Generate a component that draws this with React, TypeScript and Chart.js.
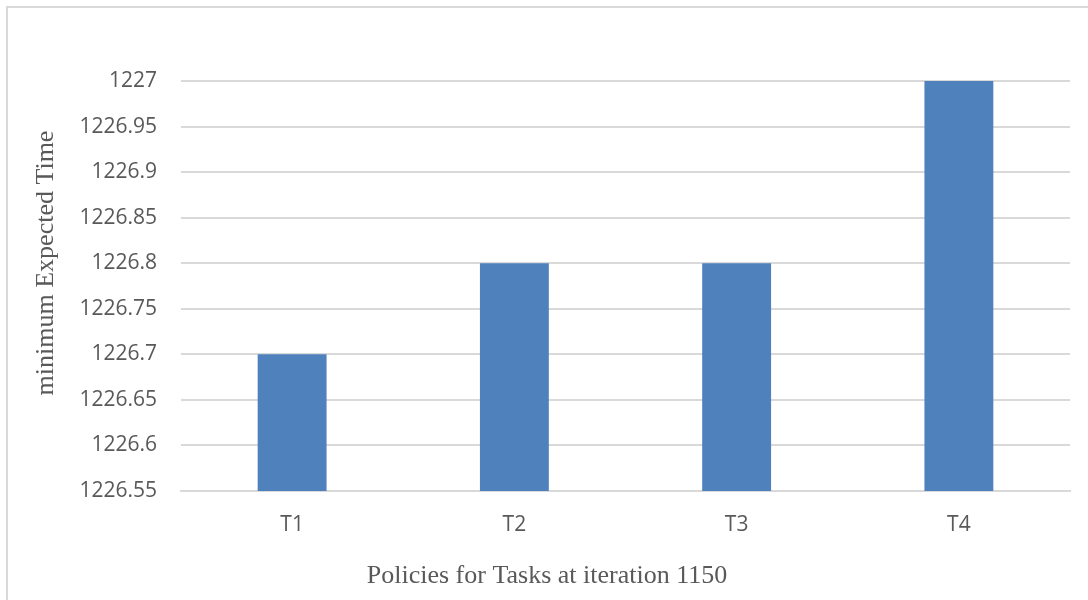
import React, { useEffect, useRef } from "react";
import { Chart, registerables } from "chart.js";

Chart.register(...registerables);

const categories = ["T1", "T2", "T3", "T4"];
const values = [1226.7, 1226.8, 1226.8, 1227.0];
const yMin = 1226.55;
const yMax = 1227.0;
const yStep = 0.05;
const xTitle = "Policies for Tasks at iteration 1150";
const yTitle = "minimum Expected Time";

const titlePlugin = {
  id: "customTitles",
  afterDraw(chart: any) {
    const ctx = chart.ctx;
    ctx.save();
    ctx.fillStyle = "#595959";
    ctx.font = "26px 'Liberation Serif', 'Times New Roman', serif";
    ctx.textAlign = "center";
    ctx.textBaseline = "alphabetic";
    ctx.fillText(xTitle, 547, 583);
    ctx.translate(53, 263);
    ctx.rotate(-Math.PI / 2);
    ctx.fillText(yTitle, 0, 0);
    ctx.restore();
  },
};

export default function App() {
  const ref = useRef<HTMLCanvasElement | null>(null);
  useEffect(() => {
    if (!ref.current) return;
    const chart = new Chart(ref.current, {
      type: "bar",
      data: {
        labels: categories,
        datasets: [
          {
            data: values,
            backgroundColor: "#4F81BD",
            borderWidth: 0,
            categoryPercentage: 1,
            barPercentage: 0.31,
          },
        ],
      },
      options: {
        responsive: false,
        animation: false,
        layout: { padding: { top: 81, right: 18, left: 0, bottom: 0 } },
        plugins: {
          legend: { display: false },
          tooltip: { enabled: false },
          title: { display: false },
        },
        scales: {
          x: {
            grid: { display: false, drawTicks: false },
            border: { display: true, color: "#d9d9d9", width: 2 },
            ticks: {
              color: "#595959",
              font: { family: "'Open Sans'", size: 21 },
              padding: 21,
            },
            afterFit: (s: any) => {
              s.height = 109;
            },
          },
          y: {
            min: yMin,
            max: yMax,
            grid: { color: "#d9d9d9", lineWidth: 2, drawTicks: false },
            border: { display: false },
            ticks: {
              stepSize: yStep,
              color: "#595959",
              font: { family: "'Open Sans'", size: 21 },
              padding: 24,
              callback: (v: any) => String(Math.round(Number(v) * 100) / 100),
            },
            afterFit: (s: any) => {
              s.width = 181;
            },
          },
        },
      },
      plugins: [titlePlugin],
    });
    return () => chart.destroy();
  }, []);

  return (
    <div style={{ position: "absolute", left: 0, top: 0, width: 1088, height: 600, background: "#fff", overflow: "hidden" }}>
      <div
        style={{
          position: "absolute",
          left: 6,
          top: 6,
          width: 1100,
          height: 620,
          border: "2px solid #d9d9d9",
          boxSizing: "border-box",
        }}
      />
      <canvas ref={ref} width={1088} height={600} style={{ position: "absolute", left: 0, top: 0 }} />
    </div>
  );
}
